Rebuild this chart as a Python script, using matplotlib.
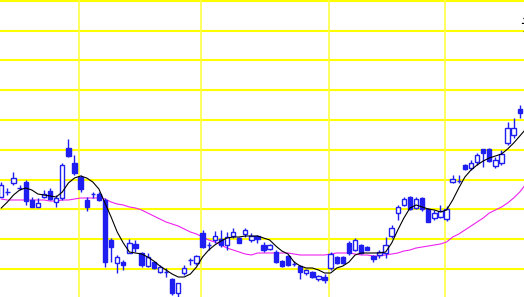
import numpy as np
import matplotlib
matplotlib.use("Agg")
import matplotlib.pyplot as plt
from matplotlib.patches import Rectangle

# price units (higher = up)
opens = [103, 108, 117, 112, 118, 100, 93, 103, 109, 98,
         102, 152, 137, 123, 100, 106, 106, 100, 60, 37,
         38, 47, 56, 47, 34, 38, 28, 28, 21, 7,
         27, 40, 37, 67, 55, 60, 61, 55, 64, 62,
         66, 60, 64, 55, 51, 48, 39, 44, 36, 34,
         27, 28, 21, 23, 32, 43, 43, 57, 50, 55,
         53, 44, 45, 47, 64, 87, 95, 103, 92, 102,
         91, 82, 83, 81, 118, 119, 135, 132, 138, 151,
         151, 134, 137, 157, 165, 191]
closes = [115, 108, 122, 112, 99, 93, 97, 106, 101, 102,
          135, 144, 127, 111, 93, 106, 100, 38, 53, 43,
          35, 57, 52, 35, 43, 32, 33, 28, 7, 17,
          32, 40, 44, 53, 55, 64, 55, 63, 68, 57,
          70, 64, 61, 50, 55, 38, 34, 35, 36, 28,
          30, 23, 24, 20, 46, 37, 37, 47, 60, 47,
          50, 41, 48, 55, 72, 93, 101, 91, 101, 91,
          78, 87, 89, 91, 121, 119, 131, 137, 145, 147,
          139, 140, 146, 172, 172, 187]
highs = [118, 112, 128, 115, 120, 103, 102, 110, 112, 105,
         137, 161, 145, 125, 103, 108, 108, 102, 62, 45,
         40, 61, 60, 48, 47, 38, 35, 32, 22, 17,
         35, 42, 45, 70, 58, 69, 70, 68, 72, 63,
         72, 67, 65, 58, 56, 50, 40, 45, 39, 35,
         31, 29, 25, 26, 48, 44, 44, 59, 62, 56,
         54, 45, 50, 63, 75, 95, 103, 104, 103, 103,
         92, 90, 95, 94, 125, 125, 136, 140, 147, 151,
         152, 143, 150, 178, 182, 195]
lows = [103, 105, 115, 110, 95, 93, 93, 102, 100, 93,
        100, 143, 125, 108, 89, 102, 99, 33, 38, 27,
        30, 47, 48, 33, 33, 31, 27, 23, 5, 3,
        25, 35, 35, 52, 50, 57, 53, 50, 62, 57,
        63, 58, 57, 48, 50, 37, 33, 34, 34, 21,
        25, 22, 19, 17, 30, 36, 36, 45, 49, 46,
        50, 38, 42, 42, 62, 80, 94, 90, 91, 89,
        78, 80, 82, 79, 117, 117, 130, 130, 135, 133,
        138, 132, 135, 155, 162, 182]

ma_short = [92, 98, 105, 110, 112, 110, 106, 105, 104, 103,
            108, 117, 122, 124, 122, 118, 111, 97, 83, 68,
            57, 48, 47, 46, 43, 39, 34, 30, 26, 23,
            23, 26, 33, 43, 50, 55, 59, 62, 63, 63,
            64, 64, 64, 62, 60, 54, 49, 46, 38, 34,
            32, 32, 30, 27, 27, 32, 34, 38, 45, 47,
            47, 47, 47, 48, 57, 70, 82, 92, 95, 93,
            91, 90, 88, 90, 100, 112, 123, 130, 135, 139,
            142, 144, 146, 151, 157, 164, 171]
ma_long = [101, 100, 100, 100, 100, 100, 100, 100, 99, 99,
           100, 100, 101, 102, 102, 102, 102, 101, 98, 96,
           95, 93, 92, 90, 87, 84, 81, 78, 76, 74,
           71, 68, 66, 63, 60, 58, 55, 52, 50, 48,
           46, 45, 47, 47, 47, 47, 47, 47, 46, 45,
           45, 45, 45, 45, 46, 47, 47, 47, 46, 45,
           45, 44, 44, 45, 46, 47, 49, 50, 52, 53,
           54, 55, 56, 58, 63, 66, 70, 74, 78, 82,
           87, 90, 93, 97, 102, 108, 116]

month_starts = [13, 33, 54, 73]

up_color = "#1e1ef0"
fig = plt.figure(figsize=(5.24, 2.97), dpi=100)
ax = fig.add_axes([0, 0, 1, 1])
ax.set_facecolor("white")

# grid
for yv in np.arange(31, 300, 29.8):
    ax.axhline(yv, color="#ffff00", lw=1.5, zorder=0)
for m in month_starts:
    ax.axvline(m - 0.27, color="#ffff40", lw=1.2, zorder=0)

w = 0.72
for i in range(len(opens)):
    o, c, h, l = opens[i], closes[i], highs[i], lows[i]
    ax.vlines(i, l, h, color=up_color, lw=1.0, zorder=2)
    if c > o:
        ax.add_patch(Rectangle((i - w / 2, o), w, c - o, facecolor="white",
                               edgecolor=up_color, lw=1.0, zorder=3))
    elif c < o:
        ax.add_patch(Rectangle((i - w / 2, c), w, o - c, facecolor=up_color,
                               edgecolor=up_color, lw=1.0, zorder=3))
    else:
        ax.hlines(o, i - w / 2, i + w / 2, color=up_color, lw=1.0, zorder=3)

ax.plot(np.arange(len(ma_short)), ma_short, color="black", lw=0.8, zorder=4)
ax.plot(np.arange(len(ma_long)), ma_long, color="#ee22ee", lw=0.8, zorder=1)

ax.set_xlim(-0.213, 85.69)
ax.set_ylim(3, 300)
ax.axis("off")

fig.text(520.5 / 524, 1 - 28 / 297, "说", fontsize=13, color="black",
         family=["Noto Sans CJK SC", "DejaVu Sans"], ha="left", va="center")

fig.savefig("out.png", dpi=100, facecolor="white")
